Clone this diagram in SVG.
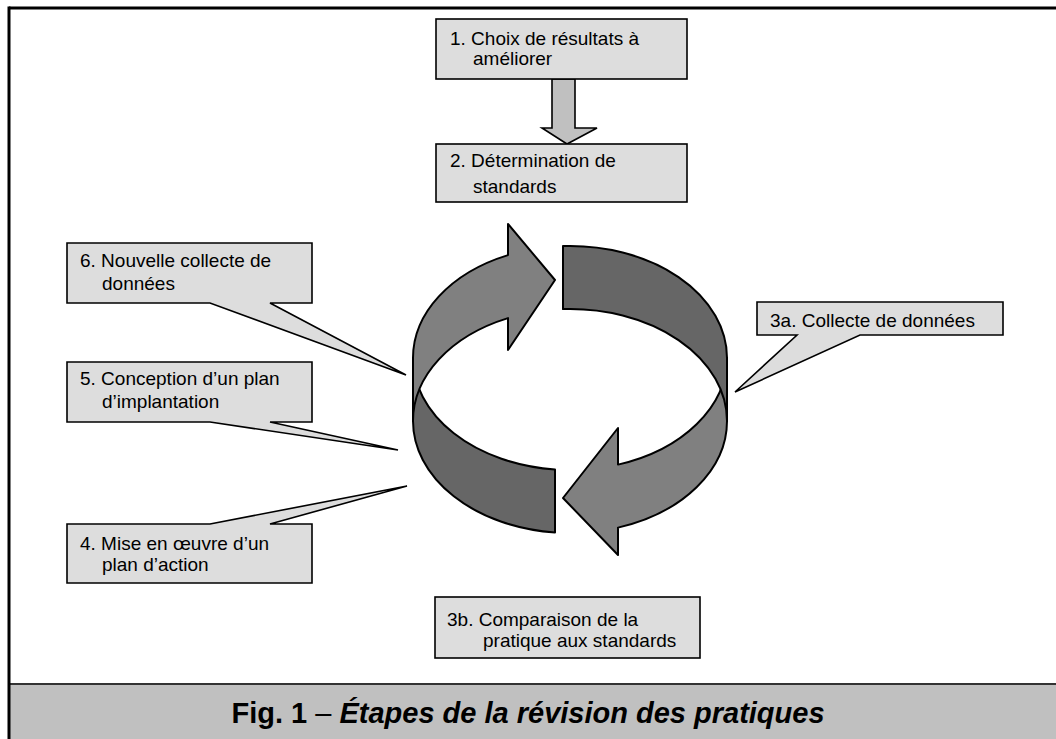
<svg xmlns="http://www.w3.org/2000/svg" width="1056" height="739" viewBox="0 0 1056 739">
<style>
.box{fill:#dddddd;stroke:#000;stroke-width:1.6;stroke-linejoin:miter}
.t{font-family:"Liberation Sans",Arial,sans-serif;font-size:19px;fill:#000}
.light{fill:#808080;stroke:#000;stroke-width:2;stroke-linejoin:round}
.dark{fill:#666666;stroke:#000;stroke-width:2;stroke-linejoin:round}
</style>
<rect x="0" y="0" width="1056" height="739" fill="#ffffff"/>
<g id="frame">
<rect x="9" y="684" width="1047" height="55" fill="#c0c0c0"/>
<line x1="9" y1="684" x2="1056" y2="684" stroke="#333" stroke-width="2"/>
<line x1="9" y1="8" x2="1056" y2="8" stroke="#000" stroke-width="3"/>
<line x1="9" y1="6.5" x2="9" y2="739" stroke="#000" stroke-width="3"/>
</g>
<g id="cycle">
<path id="arrow-lower-left" class="dark" d="M413,358 A157,112 0 0 0 555,469.5 L555,532.5 A157,112 0 0 1 413,421 Z"/>
<path id="arrow-lower-right" class="light" d="M727,358 A157,112 0 0 1 618,464.6 L618,428 L563,498 L618,555 L618,527.6 A157,112 0 0 0 727,421 Z"/>
<path id="arrow-upper-left" class="light" d="M413,358 A157,112 0 0 1 508,255.1 L508,224 L555,280 L508,350 L508,318.1 A157,112 0 0 0 413,421 Z"/>
<path id="arrow-upper-right" class="dark" d="M563,246.1 A157,112 0 0 1 727,358 L727,421 A157,112 0 0 0 563,309.1 Z"/>
</g>
<g id="connectors">
<path d="M552,79 L575,79 L575,128 L597,128 L567,144 L542,128 L552,128 Z" fill="#c0c0c0" stroke="#000" stroke-width="1.6"/>
</g>
<g id="n1">
<rect class="box" x="436" y="19" width="251" height="60"/>
<text class="t" x="450" y="45">1. Choix de résultats à</text>
<text class="t" x="473" y="65">améliorer</text>
</g>
<g id="n2">
<rect class="box" x="436" y="144" width="251" height="58"/>
<text class="t" x="450" y="167">2. Détermination de</text>
<text class="t" x="473" y="193">standards</text>
</g>
<g id="n6">
<path class="box" d="M67,243 H312 V303 H270 L406,375 L210,303 H67 Z"/>
<text class="t" x="80" y="267">6. Nouvelle collecte de</text>
<text class="t" x="102" y="290">données</text>
</g>
<g id="n5">
<path class="box" d="M67,362 H312 V422 H270 L398,450 L210,422 H67 Z"/>
<text class="t" x="80" y="385">5. Conception d’un plan</text>
<text class="t" x="102" y="408">d’implantation</text>
</g>
<g id="n4">
<path class="box" d="M67,524 H210 L407,486 L270,524 H312 V583 H67 Z"/>
<text class="t" x="80" y="550">4. Mise en œuvre d’un</text>
<text class="t" x="102" y="571">plan d’action</text>
</g>
<g id="n3a">
<path class="box" d="M757,302 H1003 V335 H860 L735,392 L797,335 H757 Z"/>
<text class="t" x="770" y="327">3a. Collecte de données</text>
</g>
<g id="n3b">
<rect class="box" x="435" y="597" width="265" height="61"/>
<text class="t" x="447" y="626">3b. Comparaison de la</text>
<text class="t" x="483" y="647">pratique aux standards</text>
</g>
<g id="caption">
<text x="528" y="723" text-anchor="middle" font-family="Liberation Sans,Arial,sans-serif" font-size="29" font-weight="bold" fill="#000">Fig. 1 <tspan font-weight="normal">–</tspan> <tspan font-style="italic">Étapes de la révision des pratiques</tspan></text>
</g>
</svg>
